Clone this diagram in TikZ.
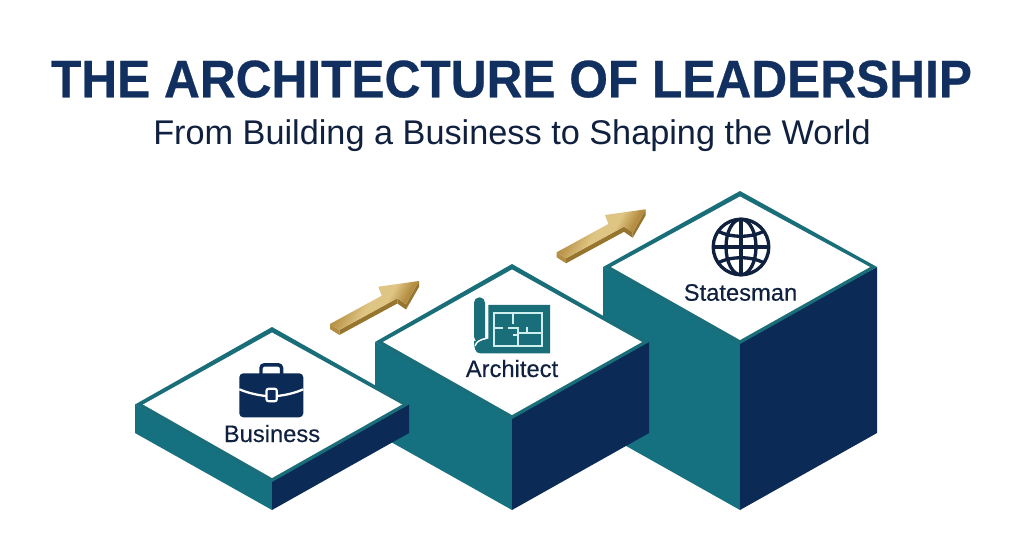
\documentclass[tikz,border=0pt]{standalone}
\usepackage{fontspec}
\setmainfont{Liberation Sans}
\newfontfamily\titlefont[FakeStretch=0.94, BoldFeatures={FakeStretch=0.94, FakeBold=0.5}]{Liberation Sans}
\newfontfamily\labelfont[FakeBold=0.25]{Liberation Sans}
\usetikzlibrary{positioning, arrows.meta, calc}
\definecolor{navy}{HTML}{0B2A55}
\definecolor{titlenavy}{HTML}{12305F}
\definecolor{inkblue}{HTML}{10203F}
\definecolor{teal}{HTML}{15707F}
\definecolor{rimteal}{HTML}{1A6E7A}
\definecolor{planline}{HTML}{CFEFEF}
\definecolor{goldlight}{HTML}{DFC583}
\definecolor{golddark}{HTML}{B48D42}
\definecolor{goldside}{HTML}{96752F}
\pgfdeclarehorizontalshading{goldbar}{100bp}{
  color(0bp)=(golddark); color(30bp)=(golddark); color(46bp)=(goldlight);
  color(56bp)=(goldlight); color(66bp)=(golddark); color(100bp)=(golddark)}
\tikzset{
  title/.style={font=\titlefont\fontsize{39.6}{42}\bfseries, color=titlenavy, anchor=base, inner sep=0pt},
  subtitle/.style={font=\fontsize{25.7}{28}\selectfont, color=inkblue, anchor=base, inner sep=0pt},
  steplabel/.style={font=\labelfont\fontsize{17.8}{20}\selectfont, color=inkblue, anchor=base, inner sep=0pt},
  sideface/.style={fill=teal},
  darkface/.style={fill=navy},
  planwall/.style={draw=planline, line width=1.4pt},
  globeline/.style={draw=inkblue, line width=2.5pt},
  goldarrow/.pic={
    % upper face, then the two visible edges
    \fill[goldside] (339.3,330) -- (339.3,335) -- (397.3,303.5) -- (397.3,298.3) -- cycle;
    \fill[golddark] (330,324) -- (339.3,330) -- (339.3,335) -- (330,329) -- cycle;
    \fill[goldside] (406,304.3) -- (419,281) -- (419,287) -- (406,309.5) -- cycle;
    \fill[goldside] (397.3,298.3) -- (406,304.3) -- (406,309.5) -- (397.3,303.5) -- cycle;
    \shade[shading=goldbar, shading angle=-29]
      (330,324) -- (381.7,295.7) -- (378.3,286.7) -- (419,281) -- (406,304.3) -- (397.3,298.3) -- (339.3,330) -- cycle;
  },
}

\begin{document}
\begin{tikzpicture}[x=0.75pt, y=-0.75pt]
  \useasboundingbox (0,0) rectangle (1024,559);
  \fill[white] (0,0) rectangle (1024,559);

  % Heading
  \node[title] (heading) at (511.5,97.3) {THE ARCHITECTURE OF LEADERSHIP};
  \node[subtitle] (subheading) at (512,145) {From Building a Business to Shaping the World};

  % Steps, back to front
  \foreach \cx/\ty/\my/\by in {740/191/267/340, 512/264/342/415, 272/327/404.5/478} {
    \fill[sideface] (\cx-137,\my) -- (\cx-137,433) -- (\cx,510) -- (\cx,\by) -- cycle;
    \fill[darkface] (\cx+137,\my) -- (\cx+137,433) -- (\cx,510) -- (\cx,\by) -- cycle;
    \fill[rimteal] (\cx,\ty) -- (\cx+137,\my) -- (\cx,\by+4) -- (\cx-137,\my) -- cycle;
    \fill[white] (\cx,\ty+5.5) -- (\cx+130,\my) -- (\cx,\by) -- (\cx-129,\my) -- cycle;
  }

  % Arrows
  \pic {goldarrow};
  \pic[shift={(226.7,-71.7)}] {goldarrow};

  % Briefcase
  \draw[navy, line width=2.6pt, rounded corners=2.5pt] (261,375) -- (261,364.8) -- (281.6,364.8) -- (281.6,375);
  \fill[navy, rounded corners=3pt] (239.3,373.3) rectangle (303.3,417.3);
  \draw[white, line width=1.7pt] (239.3,389.3) .. controls (248,393) and (257,395) .. (266,396);
  \draw[white, line width=1.7pt] (277.3,396) .. controls (286,395) and (295,393) .. (303.3,389.3);
  \draw[white, fill=navy, line width=1.6pt, rounded corners=1.5pt] (266.5,388.8) rectangle (276.8,401.2);
  \node[steplabel] (business) at (272,442) {Business};

  % Blueprint
  \fill[rimteal, rounded corners=4pt] (474,341) -- (474,297.3) -- (485,297.3) -- (485,345) -- cycle;
  \fill[rimteal] (488.3,305) -- (550,305) -- (550,353.3) -- (480,353.3)
    .. controls (475,353.3) and (474,347) .. (474,341) -- (485,339) -- (488.3,339) -- cycle;
  \draw[white, line width=1.1pt] (486,338.5) .. controls (480,339.5) and (476,342) .. (475,346);
  \draw[planwall] (494.3,313.3) rectangle (542.3,345.7);
  \draw[planwall] (513.3,313.3) -- (513.3,324.3);
  \draw[planwall] (494.3,327.7) -- (503.3,327.7);
  \draw[planwall] (508.3,327.7) -- (518.3,327.7) -- (518.3,345.7);
  \draw[planwall] (513.3,335) -- (518.3,335);
  \draw[planwall] (518.3,333.3) -- (542.3,333.3);
  \draw[planwall] (527.3,326.7) -- (527.3,333.3);
  \node[steplabel] (architect) at (512,377) {Architect};

  % Globe
  \coordinate (globe) at (741,247);
  \draw[globeline] (globe) circle [radius=27.8];
  \draw[globeline] (globe) ellipse [x radius=15, y radius=27.8];
  \draw[globeline] (741,219.2) -- (741,274.8);
  \draw[globeline] (713.2,247) -- (768.8,247);
  \draw[globeline] (718,231) .. controls (730,238) and (752,238) .. (764,231);
  \draw[globeline] (718,263) .. controls (730,256) and (752,256) .. (764,263);
  \node[steplabel] (statesman) at (740.5,300.7) {Statesman};
\end{tikzpicture}
\end{document}
